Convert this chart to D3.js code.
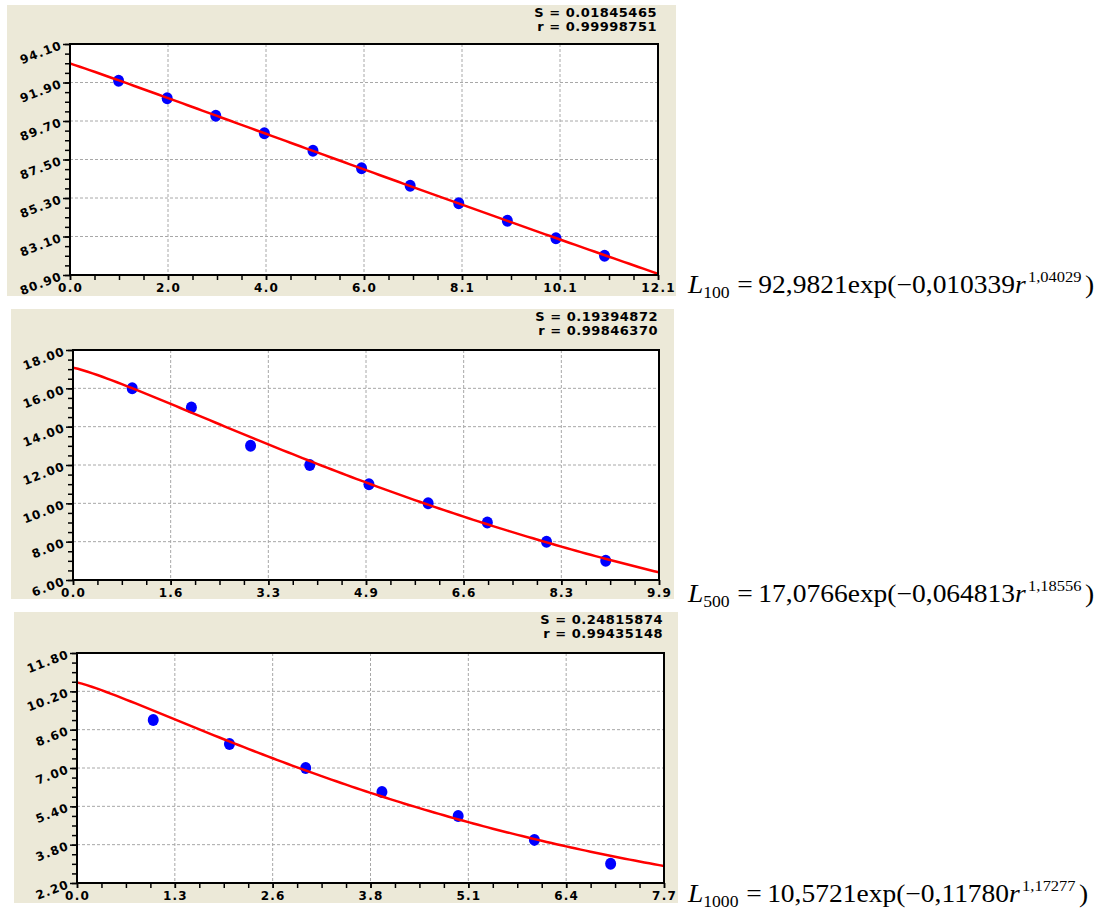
<!DOCTYPE html>
<html>
<head>
<meta charset="utf-8">
<script src="https://cdn.jsdelivr.net/npm/d3@7"></script>
<style>
body { margin: 0; background: #fff; }
svg { display: block; }
</style>
</head>
<body>
<script>
// measured points (r, L) for the three curves
const r100 = [1, 2, 3, 4, 5, 6, 7, 8, 9, 10, 11];
const L100 = [92, 91, 90, 89, 88, 87, 86, 85, 84, 83, 82];
const r500 = [1, 2, 3, 4, 5, 6, 7, 8, 9];
const L500 = [16, 15, 13, 12, 11, 10, 9, 8, 7];
const r1000 = [1, 2, 3, 4, 5, 6, 7];
const L1000 = [9, 8, 7, 6, 5, 4, 3];

// fit parameters a, b, c of L = a*exp(-b*r^c)
const fit100 = [92.9821, 0.010339, 1.04029];
const fit500 = [17.0766, 0.064813, 1.18556];
const fit1000 = [10.5721, 0.11780, 1.17277];

// tick labels
const xTicks100 = ["0.0", "2.0", "4.0", "6.0", "8.1", "10.1", "12.1"];
const yTicks100 = ["80.90", "83.10", "85.30", "87.50", "89.70", "91.90", "94.10"];
const xTicks500 = ["0.0", "1.6", "3.3", "4.9", "6.6", "8.3", "9.9"];
const yTicks500 = ["6.00", "8.00", "10.00", "12.00", "14.00", "16.00", "18.00"];
const xTicks1000 = ["0.0", "1.3", "2.6", "3.8", "5.1", "6.4", "7.7"];
const yTicks1000 = ["2.20", "3.80", "5.40", "7.00", "8.60", "10.20", "11.80"];

// fit statistics and equation text pieces
const stats100 = ["S = 0.01845465", "r = 0.99998751"];
const stats500 = ["S = 0.19394872", "r = 0.99846370"];
const stats1000 = ["S = 0.24815874", "r = 0.99435148"];
const eq100 = ["100", "92,9821", "0,010339", "1,04029"];
const eq500 = ["500", "17,0766", "0,064813", "1,18556"];
const eq1000 = ["1000", "10,5721", "0,11780", "1,17277"];

const panels = [
  {r: r100, L: L100, fit: fit100, xt: xTicks100, yt: yTicks100, st: stats100, eq: eq100,
   bg: [7, 5, 676, 296], box: [70, 44, 658, 275], eqY: 293},
  {r: r500, L: L500, fit: fit500, xt: xTicks500, yt: yTicks500, st: stats500, eq: eq500,
   bg: [11, 309, 674, 599], box: [73, 350, 659, 580], eqY: 602},
  {r: r1000, L: L1000, fit: fit1000, xt: xTicks1000, yt: yTicks1000, st: stats1000, eq: eq1000,
   bg: [14, 612, 678, 903], box: [77, 653, 664, 883], eqY: 902}
];

const svg = d3.select("body").append("svg")
    .attr("width", 1101)
    .attr("height", 911);

const tickFont = "'DejaVu Sans', Verdana, sans-serif";

panels.forEach(function(p, k) {
  svg.append("rect")
      .attr("x", p.bg[0]).attr("y", p.bg[1])
      .attr("width", p.bg[2] - p.bg[0]).attr("height", p.bg[3] - p.bg[1])
      .attr("fill", "#ece9d8");

  const x0 = 0, x1 = +p.xt[p.xt.length - 1];
  const y0 = +p.yt[0], y1 = +p.yt[p.yt.length - 1];
  const x = d3.scaleLinear().domain([x0, x1]).range([p.box[0], p.box[2]]);
  const y = d3.scaleLinear().domain([y0, y1]).range([p.box[3], p.box[1]]);

  const xMajor = d3.range(7).map(i => x0 + i * (x1 - x0) / 6);
  const yMajor = d3.range(7).map(i => y0 + i * (y1 - y0) / 6);
  const xMinor = d3.range(25).map(i => x0 + i * (x1 - x0) / 24);
  const yMinor = d3.range(25).map(i => y0 + i * (y1 - y0) / 24);

  const g = svg.append("g");

  g.append("rect")
      .attr("x", p.box[0]).attr("y", p.box[1])
      .attr("width", p.box[2] - p.box[0]).attr("height", p.box[3] - p.box[1])
      .attr("fill", "#fff");

  // grid
  g.selectAll(".vg").data(xMajor.slice(1, 6)).enter().append("line")
      .attr("x1", d => x(d)).attr("x2", d => x(d))
      .attr("y1", p.box[1]).attr("y2", p.box[3])
      .attr("stroke", "#a8a8a8").attr("stroke-dasharray", "3,2");
  g.selectAll(".hg").data(yMajor.slice(1, 6)).enter().append("line")
      .attr("x1", p.box[0]).attr("x2", p.box[2])
      .attr("y1", d => y(d)).attr("y2", d => y(d))
      .attr("stroke", "#a8a8a8").attr("stroke-dasharray", "3,2");

  // minor ticks
  g.append("g").attr("transform", "translate(0," + p.box[3] + ")")
      .call(d3.axisBottom(x).tickValues(xMinor).tickSize(5).tickFormat(""))
      .call(a => a.select(".domain").remove())
      .selectAll("line").attr("stroke-width", 1.5);
  g.append("g").attr("transform", "translate(" + p.box[0] + ",0)")
      .call(d3.axisLeft(y).tickValues(yMinor).tickSize(5).tickFormat(""))
      .call(a => a.select(".domain").remove())
      .selectAll("line").attr("stroke-width", 1.5);

  // major ticks and labels
  const xa = g.append("g").attr("transform", "translate(0," + p.box[3] + ")")
      .call(d3.axisBottom(x).tickValues(xMajor).tickSize(5).tickFormat((d, i) => p.xt[i]));
  xa.select(".domain").remove();
  xa.selectAll("line").attr("stroke-width", 1.5);
  xa.selectAll("text")
      .attr("y", 8)
      .attr("font-family", tickFont).attr("font-weight", "bold")
      .attr("font-size", 12).attr("letter-spacing", 1.2).attr("fill", "#000");

  const ya = g.append("g").attr("transform", "translate(" + p.box[0] + ",0)")
      .call(d3.axisLeft(y).tickValues(yMajor).tickSize(7).tickFormat((d, i) => p.yt[i]));
  ya.select(".domain").remove();
  ya.selectAll("line").attr("stroke-width", 1.5);
  ya.selectAll("text")
      .attr("x", -7).attr("y", 4).attr("dy", null)
      .attr("transform", "rotate(-21,-7,4)")
      .attr("font-family", tickFont).attr("font-weight", "bold")
      .attr("font-size", 12).attr("letter-spacing", 1.2).attr("fill", "#000");

  // points
  g.selectAll(".pt").data(p.r).enter().append("ellipse")
      .attr("cx", d => x(d))
      .attr("cy", (d, i) => y(p.L[i]))
      .attr("rx", 5.5).attr("ry", 6)
      .attr("fill", "#0000ff");

  // fitted curve
  const clipId = "clip" + k;
  g.append("clipPath").attr("id", clipId).append("rect")
      .attr("x", p.box[0]).attr("y", p.box[1])
      .attr("width", p.box[2] - p.box[0]).attr("height", p.box[3] - p.box[1]);
  const rs = d3.range(0, 121).map(i => x1 * i / 120);
  const line = d3.line()
      .x(d => x(d))
      .y(d => y(p.fit[0] * Math.exp(-p.fit[1] * Math.pow(d, p.fit[2]))));
  g.append("path").datum(rs)
      .attr("d", line)
      .attr("clip-path", "url(#" + clipId + ")")
      .attr("fill", "none").attr("stroke", "#ff0000").attr("stroke-width", 2.5);

  // frame
  g.append("rect")
      .attr("x", p.box[0]).attr("y", p.box[1])
      .attr("width", p.box[2] - p.box[0]).attr("height", p.box[3] - p.box[1])
      .attr("fill", "none").attr("stroke", "#000").attr("stroke-width", 2);

  // stats
  g.selectAll(".st").data(p.st).enter().append("text")
      .attr("x", p.box[2] - 1)
      .attr("y", (d, i) => p.bg[1] + 12 + i * 14)
      .attr("text-anchor", "end")
      .attr("font-family", tickFont).attr("font-weight", "bold")
      .attr("font-size", 13).attr("letter-spacing", 0.5)
      .text(d => d);

  // equation
  const eq = svg.append("text")
      .attr("transform", "translate(688," + p.eqY + ") scale(1.1,1)")
      .attr("font-family", "'Liberation Serif', 'Times New Roman', serif")
      .attr("font-size", 25);
  eq.append("tspan").attr("font-style", "italic").text("L");
  eq.append("tspan").attr("font-size", 16).attr("dy", 5).text(p.eq[0]);
  eq.append("tspan").attr("dy", -5).attr("dx", 7).text("=\u2009" + p.eq[1] + "exp(\u2212" + p.eq[2]);
  eq.append("tspan").attr("font-style", "italic").text("r");
  eq.append("tspan").attr("font-size", 15).attr("dy", -11).attr("dx", 2).text(p.eq[3]);
  eq.append("tspan").attr("dy", 11).attr("dx", 3).text(")");
});
</script>
</body>
</html>
